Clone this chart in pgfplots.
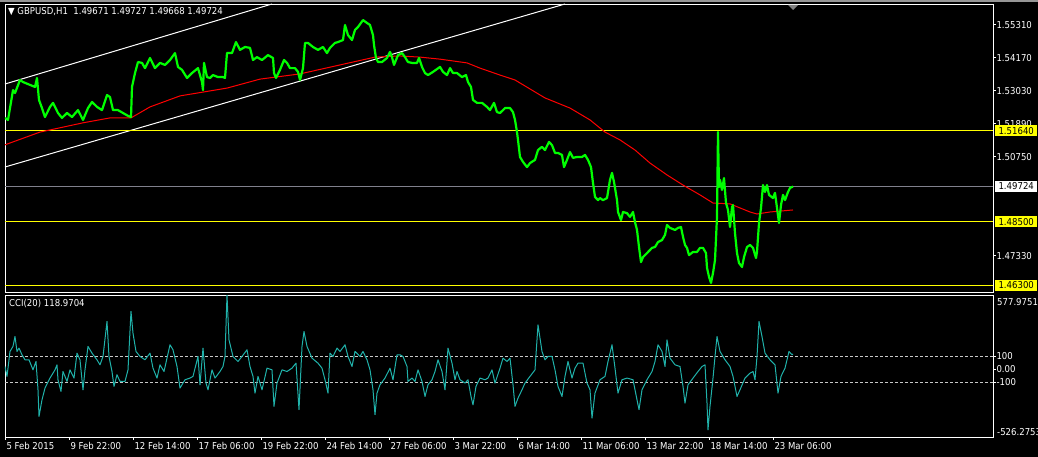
\documentclass[border=0pt]{standalone}
\usepackage{pgfplots}
\pgfplotsset{compat=1.18}
\usepackage{fontspec}
\setmainfont{DejaVu Sans Condensed}
\definecolor{mtgreen}{RGB}{0,255,0}
\definecolor{mtred}{RGB}{255,0,0}
\definecolor{mtcci}{RGB}{32,178,170}
\definecolor{mtdash}{RGB}{200,200,200}
\definecolor{mtbid}{RGB}{128,128,140}
\definecolor{mtyellow}{RGB}{255,255,0}
\definecolor{mtband}{RGB}{150,150,150}
\newcommand{\lf}{\fontsize{9.5}{11}\selectfont}
\begin{document}
\begin{tikzpicture}
\fill[black] (0pt,0pt) rectangle (1038pt,457pt);
\useasboundingbox (0pt,0pt) rectangle (1038pt,457pt);
\fill[mtband] (0pt,455pt) rectangle (1038pt,457pt);
% ---------------- main price panel ----------------
\begin{axis}[
  at={(5pt,165pt)}, anchor=south west, scale only axis,
  width=988pt, height=288pt,
  xmin=5, xmax=993, ymin=1.46076, ymax=1.56025,
  axis line style={white, line width=0.9pt},
  xtick=\empty,
  ytick={1.47330,1.50750,1.51890,1.53030,1.54170,1.55310},
  yticklabels={1.47330,1.50750,1.51890,1.53030,1.54170,1.55310},
  ytick pos=right, tick align=outside, major tick length=3pt,
  tick style={white, line width=0.8pt},
  yticklabel style={font=\lf, text=white, anchor=west, xshift=-3pt},
  clip=true,
]
% channel lines
\addplot[white, line width=1pt] coordinates {(5,1.53261) (272,1.56025)};
\addplot[white, line width=1pt] coordinates {(5,1.50394) (565,1.56025)};
% horizontal levels
\addplot[mtyellow, line width=1pt] coordinates {(5,1.5164) (993,1.5164)};
\addplot[mtyellow, line width=1pt] coordinates {(5,1.4850) (993,1.4850)};
\addplot[mtyellow, line width=1pt] coordinates {(5,1.4630) (993,1.4630)};
\addplot[mtbid, line width=1pt] coordinates {(5,1.49724) (993,1.49724)};
% moving average
\addplot[mtred, line width=1pt] coordinates {
(5,1.5116) (40,1.5160) (83,1.5192) (110,1.5209) (131,1.5209) (150,1.5247)
(180,1.5285) (227,1.5312) (260,1.5343) (300,1.5361) (340,1.5392) (375,1.5419)
(400,1.5423) (420,1.5419) (440,1.5412) (467,1.5399) (480,1.5381) (500,1.5357)
(515,1.5340) (530,1.5309) (545,1.5278) (570,1.5243) (590,1.5202) (605,1.5160)
(620,1.5133) (635,1.5098) (650,1.5053) (667,1.5012) (683,1.4977) (700,1.4943)
(713,1.4915) (730,1.4912) (750,1.4884) (757,1.4877) (770,1.4884) (793,1.4891)};
% price
\addplot[mtgreen, line width=2.2pt, line join=round] coordinates {
(5,1.5209) (8,1.5202) (10,1.5243) (13,1.5305) (15,1.5295) (20,1.5340) (23,1.5333)
(30,1.5323) (35,1.5316) (37,1.5347) (39,1.5271) (42,1.5243) (45,1.5212) (50,1.5247)
(53,1.5261) (58,1.5226) (62,1.5209) (67,1.5226) (72,1.5212) (78,1.5236) (83,1.5202)
(88,1.5243) (92,1.5264) (97,1.5247) (102,1.5236) (107,1.5288) (110,1.5281) (113,1.5236)
(118,1.5236) (123,1.5226) (128,1.5216) (131,1.5212) (132,1.5316) (135,1.5364)
(138,1.5402) (142,1.5399) (145,1.5381) (150,1.5416) (155,1.5381) (160,1.5399)
(165,1.5392) (170,1.5409) (175,1.5433) (178,1.5385) (182,1.5375) (187,1.5347)
(192,1.5364) (198,1.5381) (202,1.5333) (203,1.5305) (204,1.5399) (207,1.5350)
(210,1.5347) (213,1.5357) (218,1.5350) (223,1.5350) (225,1.5347) (227,1.5433)
(232,1.5433) (236,1.5471) (240,1.5444) (245,1.5454) (250,1.5451) (253,1.5409)
(257,1.5419) (262,1.5409) (268,1.5426) (273,1.5416) (274,1.5364) (276,1.5347)
(280,1.5375) (284,1.5409) (287,1.5399) (290,1.5381) (295,1.5381) (298,1.5368)
(300,1.5340) (303,1.5381) (305,1.5468) (308,1.5468) (313,1.5454) (318,1.5444)
(323,1.5454) (327,1.5433) (330,1.5451) (335,1.5468) (338,1.5471) (343,1.5478)
(345,1.5530) (348,1.5495) (352,1.5478) (355,1.5513) (358,1.5523) (363,1.5547)
(367,1.5537) (370,1.5530) (373,1.5495) (374,1.5461) (376,1.5416) (378,1.5402)
(382,1.5402) (387,1.5416) (390,1.5437) (392,1.5419) (394,1.5392) (398,1.5426)
(402,1.5433) (405,1.5419) (408,1.5402) (412,1.5399) (417,1.5399) (419,1.5416)
(422,1.5385) (425,1.5364) (428,1.5357) (433,1.5368) (440,1.5385) (443,1.5368)
(447,1.5357) (450,1.5381) (453,1.5364) (457,1.5364) (462,1.5350) (466,1.5357)
(468,1.5333) (471,1.5316) (473,1.5271) (477,1.5261) (482,1.5261) (487,1.5247)
(490,1.5236) (494,1.5261) (497,1.5229) (500,1.5226) (503,1.5236) (505,1.5243)
(510,1.5243) (513,1.5229) (515,1.5202) (517,1.5160) (518,1.5133) (520,1.5074)
(523,1.5057) (527,1.5039) (530,1.5053) (535,1.5064) (538,1.5098) (542,1.5109)
(545,1.5098) (549,1.5126) (552,1.5115) (555,1.5088) (558,1.5088) (562,1.5081)
(564,1.5039) (567,1.5064) (570,1.5091) (573,1.5071) (577,1.5074) (582,1.5074)
(585,1.5081) (588,1.5064) (591,1.5039) (593,1.4984) (595,1.4936) (598,1.4925)
(600,1.4932) (603,1.4925) (607,1.4932) (610,1.4995) (612,1.5019) (614,1.4988)
(617,1.4925) (618,1.4884) (621,1.4856) (623,1.4884) (627,1.4880) (630,1.4867)
(633,1.4884) (635,1.4849) (637,1.4822) (639,1.4763) (641,1.4711) (643,1.4728)
(647,1.4742) (652,1.4760) (655,1.4763) (658,1.4780) (662,1.4787) (665,1.4805)
(667,1.4839) (670,1.4829) (675,1.4822) (678,1.4829) (681,1.4832) (683,1.4798)
(685,1.4770) (687,1.4760) (689,1.4735) (693,1.4746) (697,1.4746) (700,1.4760)
(703,1.4760) (706,1.4742) (707,1.4691) (709,1.4660) (711,1.4639) (713,1.4673)
(715,1.4718) (717,1.4867) (718,1.5160) (719,1.4970) (720,1.4995) (722,1.4960)
(724,1.5001) (726,1.4915) (728,1.4891) (730,1.4832) (732,1.4901) (733,1.4908)
(735,1.4811) (737,1.4742) (739,1.4708) (742,1.4694) (744,1.4728) (747,1.4763)
(750,1.4770) (753,1.4760) (756,1.4725) (757,1.4746) (759,1.4846) (761,1.4898)
(763,1.4977) (765,1.4953) (767,1.4977) (769,1.4943) (773,1.4932) (775,1.4950)
(777,1.4898) (779,1.4846) (781,1.4908) (783,1.4943) (785,1.4925) (788,1.4953)
(790,1.4967) (793,1.4972)};
\coordinate (L1) at (axis cs:993,1.5164);
\coordinate (L2) at (axis cs:993,1.49724);
\coordinate (L3) at (axis cs:993,1.4850);
\coordinate (L4) at (axis cs:993,1.4630);
\end{axis}
% level labels
\tikzset{lvl/.style={anchor=west, font=\lf, text=black, inner sep=0pt, minimum height=11pt, minimum width=42pt}}
\node[lvl, fill=mtyellow] at ([xshift=2pt]L1) {1.51640};
\node[lvl, fill=white] at ([xshift=2pt]L2) {1.49724};
\node[lvl, fill=mtyellow] at ([xshift=2pt]L3) {1.48500};
\node[lvl, fill=mtyellow] at ([xshift=2pt]L4) {1.46300};
\node[anchor=west, font=\lf, text=white, inner sep=0pt] at (8pt,445pt) {▼ GBPUSD,H1\ \ 1.49671 1.49727 1.49668 1.49724};
\fill[gray] (788pt,452pt) -- (798pt,452pt) -- (793pt,447pt) -- cycle;
% ---------------- CCI panel ----------------
\begin{axis}[
  at={(5pt,20pt)}, anchor=south west, scale only axis,
  width=988pt, height=142pt,
  xmin=5, xmax=993, ymin=-526.2753, ymax=577.9751,
  axis line style={white, line width=0.9pt},
  xtick={5,69,133,197,261,325,389,453,517,581,645,709,773},
  xticklabels={5 Feb 2015,9 Feb 22:00,12 Feb 14:00,17 Feb 06:00,19 Feb 22:00,24 Feb 14:00,27 Feb 06:00,3 Mar 22:00,6 Mar 14:00,11 Mar 06:00,13 Mar 22:00,18 Mar 14:00,23 Mar 06:00},
  xtick pos=bottom,
  xticklabel style={font=\lf, text=white, anchor=north west, xshift=-2pt, yshift=1pt},
  ytick={-100,0,100}, yticklabels={-100,0.00,100},
  ytick pos=right, tick align=outside, major tick length=3pt,
  tick style={white, line width=0.8pt},
  yticklabel style={font=\lf, text=white, anchor=west, xshift=-3pt},
  clip=true,
]
\addplot[mtdash, line width=0.8pt, dash pattern=on 3pt off 2pt] coordinates {(5,100) (993,100)};
\addplot[mtdash, line width=0.8pt, dash pattern=on 3pt off 2pt] coordinates {(5,-100) (993,-100)};
\addplot[mtcci, line width=1pt, line join=round] coordinates {
(5,22) (7,-55) (10,139) (13,178) (15,255) (17,139) (19,165) (22,113) (25,74) (29,74)
(33,-4) (36,61) (38,-159) (39,-366) (42,-237) (45,-146) (50,-68) (55,-4) (57,35)
(58,-81) (61,-172) (63,-17) (67,-94) (70,-4) (74,-68) (77,126) (80,74) (83,-159)
(85,-4) (88,178) (92,126) (97,74) (100,35) (103,100) (107,372) (109,100) (112,-17)
(114,-133) (117,-42) (120,-94) (125,-94) (128,-4) (131,450) (133,281) (136,139)
(140,100) (145,74) (150,126) (153,9) (157,-68) (160,35) (164,-17) (167,87) (170,191)
(173,152) (177,22) (180,-146) (185,-81) (190,-68) (193,-55) (198,100) (200,-120)
(203,165) (206,-107) (208,-159) (212,-4) (215,-68) (220,-17) (223,22) (225,100)
(227,578) (229,229) (233,100) (238,61) (242,100) (247,152) (250,22) (253,-55)
(255,-185) (258,-55) (262,-159) (267,9) (272,-4) (274,-288) (277,-107) (282,-4)
(287,-17) (292,9) (296,48) (299,-314) (302,178) (304,294) (307,178) (312,87) (318,48)
(322,9) (325,-81) (328,-185) (330,126) (333,100) (337,165) (340,139) (345,191)
(348,100) (352,22) (355,139) (360,100) (363,139) (367,74) (370,-4) (373,-159)
(375,-353) (377,-185) (380,-120) (385,-68) (390,9) (393,-81) (397,113) (400,113)
(403,100) (407,22) (408,-94) (412,-68) (415,-94) (418,-4) (422,-94) (425,-211)
(428,-120) (432,-81) (435,-17) (438,74) (442,-17) (445,-159) (448,165) (452,48)
(455,-81) (457,-17) (460,-81) (465,-107) (468,-81) (471,-211) (473,-276) (476,-133)
(480,-68) (485,-81) (488,-68) (492,-4) (495,-107) (500,9) (503,87) (507,61) (510,87)
(513,-120) (515,-288) (518,-224) (522,-159) (525,-107) (530,-55) (535,-4) (538,346)
(542,139) (545,74) (548,100) (552,100) (555,-4) (558,-133) (562,-211) (565,-55)
(568,61) (572,-68) (575,9) (578,48) (583,48) (587,-107) (590,-159) (592,-379)
(595,-185) (600,-81) (605,-55) (608,61) (612,191) (615,9) (618,-185) (622,-81)
(627,-68) (633,-81) (637,-237) (639,-314) (642,-159) (647,-81) (652,-17) (655,61)
(658,191) (662,139) (665,22) (667,229) (670,87) (675,35) (680,22) (683,-133)
(685,-263) (688,-120) (693,-68) (698,-17) (702,22) (705,35) (707,-263) (708,-470)
(710,-288) (713,-68) (715,100) (717,255) (720,139) (725,74) (730,22) (733,-55)
(737,-211) (740,-159) (745,-68) (750,-30) (753,-17) (755,-81) (757,100) (759,372)
(762,255) (765,126) (770,74) (775,35) (778,-185) (781,-55) (785,9) (789,139)
(792,113) (793,119)};
\end{axis}
\node[anchor=west, font=\lf, text=white, inner sep=0pt] at (997pt,155pt) {577.9751};
\node[anchor=west, font=\lf, text=white, inner sep=0pt] at (997pt,25pt) {-526.2753};
\node[anchor=west, font=\lf, text=white, inner sep=0pt] at (9pt,153pt) {CCI(20) 118.9704};
\end{tikzpicture}
\end{document}
